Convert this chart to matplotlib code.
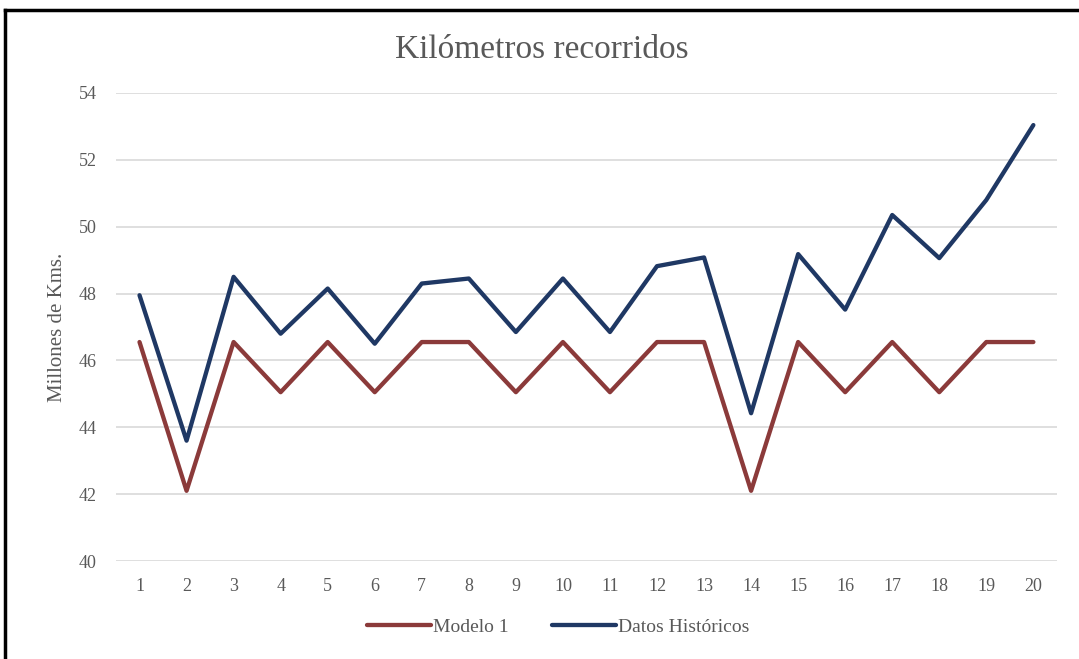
import numpy as np
import matplotlib.pyplot as plt
from matplotlib.lines import Line2D

periodos = list(range(1, 21))
modelo_1 = [46.55, 42.1, 46.55, 45.05, 46.55, 45.05, 46.55, 46.55, 45.05, 46.55,
            45.05, 46.55, 46.55, 42.1, 46.55, 45.05, 46.55, 45.05, 46.55, 46.55]
datos_historicos = [47.95, 43.6, 48.5, 46.8, 48.15, 46.5, 48.3, 48.45, 46.85, 48.45,
                    46.85, 48.82, 49.08, 44.42, 49.18, 47.52, 50.35, 49.06, 50.8, 53.04]
y_ticks = [40, 42, 44, 46, 48, 50, 52, 54]

plt.rcParams['font.family'] = ['Liberation Serif', 'DejaVu Serif']
gris = '#595959'

fig = plt.figure(figsize=(10.79, 6.59), dpi=100)
ax = fig.add_axes([0.1075, 0.1487, 0.872, 0.7102])

ax.plot(periodos, modelo_1, color='#8B3A3A', lw=3.1, label='Modelo 1',
        solid_joinstyle='round', solid_capstyle='round')
ax.plot(periodos, datos_historicos, color='#1F3864', lw=3.1, label='Datos Históricos',
        solid_joinstyle='round', solid_capstyle='round')

ax.set_xlim(0.5, 20.5)
ax.set_ylim(40, 54)
ax.set_xticks(periodos)
ax.set_yticks(y_ticks)
ax.tick_params(length=0, labelsize=13, labelcolor=gris, pad=14)
ax.tick_params(axis='x', pad=12)
ax.grid(axis='y', color='#d9d9d9', lw=1.2)
ax.set_axisbelow(True)
for s in ax.spines.values():
    s.set_visible(False)

ax.set_ylabel('Millones de Kms.', fontsize=15, color=gris, labelpad=8)
fig.text(0.502, 0.925, 'Kilómetros recorridos', ha='center', va='center',
         fontsize=24, color=gris)

leg = ax.legend(loc='upper center', bbox_to_anchor=(0.47, -0.085), ncol=2, frameon=False,
                fontsize=14, handlelength=3.3, handletextpad=0.1, columnspacing=2.2)
for t in leg.get_texts():
    t.set_color(gris)

# marco del grafico (solo izquierda y arriba visibles)
fig.add_artist(Line2D([5 / 1079, 5 / 1079], [0, 1 - 10 / 659], transform=fig.transFigure,
                      color='black', lw=2.5))
fig.add_artist(Line2D([5 / 1079, 1], [1 - 10 / 659, 1 - 10 / 659], transform=fig.transFigure,
                      color='black', lw=2.5))

plt.savefig('out.png', dpi=100)
